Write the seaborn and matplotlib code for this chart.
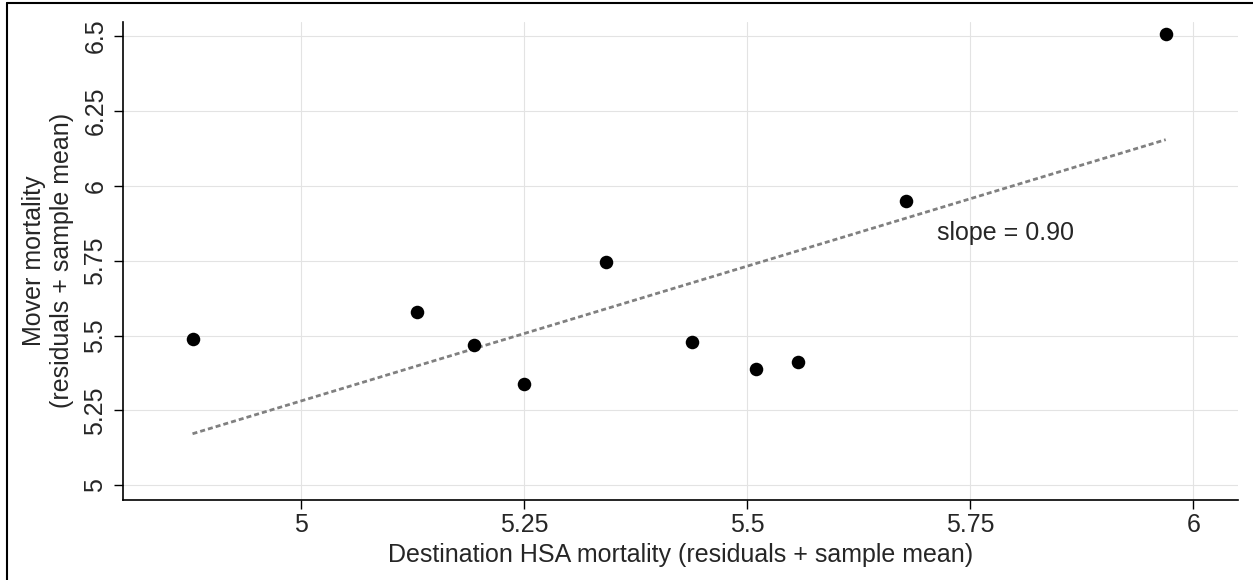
import matplotlib
matplotlib.use("Agg")
import matplotlib.pyplot as plt
import numpy as np
import pandas as pd
import seaborn as sns
from matplotlib.lines import Line2D

# values
dest_mortality = [4.878, 5.130, 5.193, 5.250, 5.341, 5.438, 5.510, 5.557, 5.678, 5.969]
mover_mortality = [5.489, 5.578, 5.467, 5.340, 5.745, 5.478, 5.387, 5.411, 5.950, 6.506]
fit_slope = 0.90
fit_intercept = 0.782
x_ticks = [5, 5.25, 5.5, 5.75, 6]
y_ticks = [5, 5.25, 5.5, 5.75, 6, 6.25, 6.5]
x_tick_labels = ["5", "5.25", "5.5", "5.75", "6"]
y_tick_labels = ["5", "5.25", "5.5", "5.75", "6", "6.25", "6.5"]

sns.set_style("white")
plt.rcParams["font.family"] = ["Liberation Sans", "DejaVu Sans"]
FS = 18

df = pd.DataFrame({"dest": dest_mortality, "mover": mover_mortality})
fit_x = np.array([min(dest_mortality), max(dest_mortality)])
df_fit = pd.DataFrame({"dest": fit_x, "mover": fit_intercept + fit_slope * fit_x})

fig = plt.figure(figsize=(12.53, 5.80), dpi=100)
ax = fig.add_axes([0.0984, 0.1379, 0.988 - 0.0984, 0.9626 - 0.1379])

ax.grid(True, color="#e3e3e3", linewidth=0.8, zorder=0)
ax.set_axisbelow(True)

sns.lineplot(data=df_fit, x="dest", y="mover", ax=ax, color="#808080",
             linewidth=2.0, dashes=False, zorder=2)
ax.lines[-1].set_dashes((1.8, 1.1))
sns.scatterplot(data=df, x="dest", y="mover", ax=ax, color="black", s=95,
                edgecolor="black", linewidth=0, zorder=3)

ax.text(5.713, 5.842, f"slope = {fit_slope:.2f}", fontsize=FS, ha="left", va="center")

ax.set_xlim(4.8004, 6.050)
ax.set_ylim(4.951, 6.548)
ax.set_xticks(x_ticks)
ax.set_xticklabels(x_tick_labels)
ax.set_yticks(y_ticks)
ax.set_yticklabels(y_tick_labels, rotation=90, va="center")
ax.tick_params(axis="both", labelsize=FS, length=6.5, width=1.0, color="black",
               direction="out", bottom=True, left=True)
ax.tick_params(axis="x", pad=3)
ax.tick_params(axis="y", pad=5)

for side in ["top", "right"]:
    ax.spines[side].set_visible(False)
for side in ["left", "bottom"]:
    ax.spines[side].set_color("black")
    ax.spines[side].set_linewidth(1.2)

ax.set_xlabel("Destination HSA mortality (residuals + sample mean)", fontsize=FS, labelpad=4)
ax.set_ylabel("Mover mortality\n(residuals + sample mean)", fontsize=FS, labelpad=7,
              linespacing=1.2)

# outer frame (left and top edges visible in the reference)
fig.add_artist(Line2D([6.5 / 1253, 6.5 / 1253], [0, 1 - 3.3 / 580],
                      transform=fig.transFigure, color="black", linewidth=1.5))
fig.add_artist(Line2D([6.5 / 1253, 1], [1 - 3.3 / 580, 1 - 3.3 / 580],
                      transform=fig.transFigure, color="black", linewidth=1.5))

fig.savefig("out.png", dpi=100)
